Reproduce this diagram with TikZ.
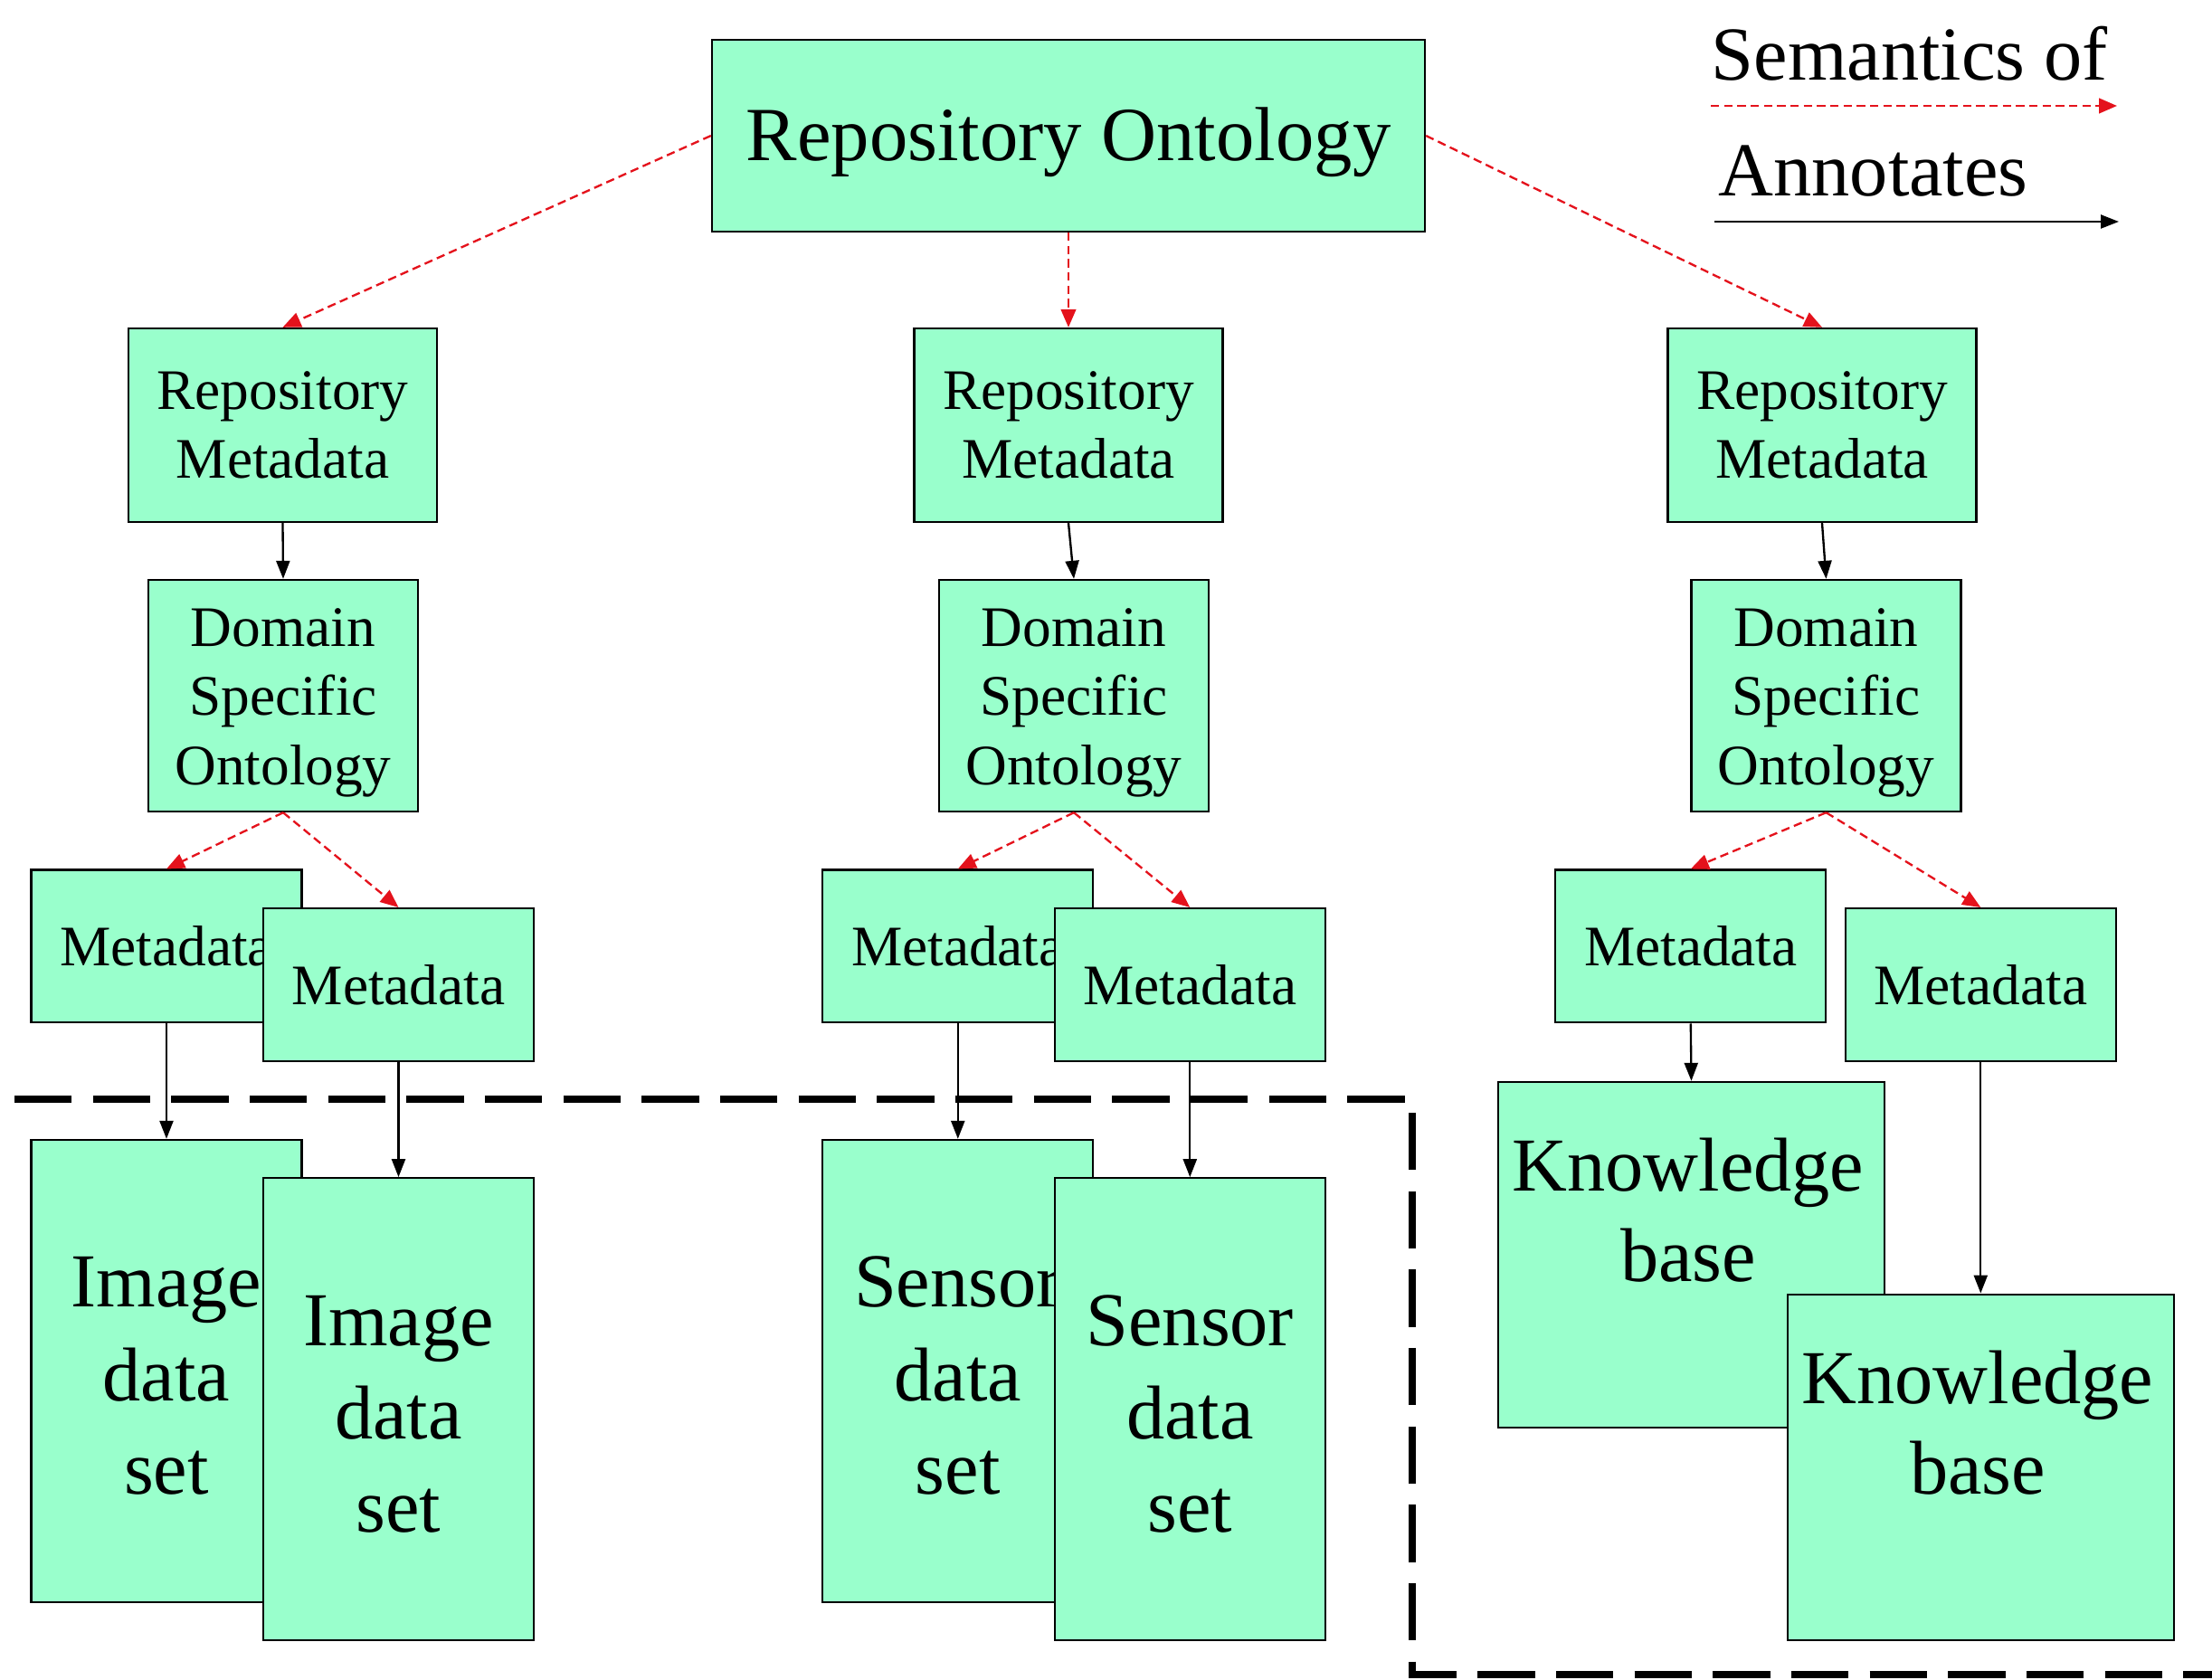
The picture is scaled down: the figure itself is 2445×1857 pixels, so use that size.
\documentclass[tikz,border=0pt]{standalone}
\usepackage{fontspec}
\setmainfont{Liberation Serif}
\usetikzlibrary{arrows.meta}
\definecolor{boxfill}{RGB}{153,255,204}
\definecolor{semred}{RGB}{228,18,28}
\begin{document}
\begin{tikzpicture}[x=0.3pt,y=-0.3pt,
  box/.style={draw=black, line width=0.7pt, fill=boxfill, align=center, inner sep=0pt},
  topbox/.style={box, minimum width=236.4pt, minimum height=63.6pt, text height=21.9pt, font=\fontsize{25.4}{30}\selectfont},
  rmbox/.style={box, minimum width=102.3pt, minimum height=64.2pt, font=\fontsize{19}{23}\selectfont},
  dsobox/.style={box, minimum width=89.4pt, minimum height=76.8pt, text height=63.2pt, font=\fontsize{19}{23}\selectfont},
  mdbox/.style={box, minimum width=89.7pt, minimum height=50.6pt, font=\fontsize{19}{23}\selectfont},
  databox/.style={box, minimum width=89.7pt, minimum height=153.3pt, text height=81.8pt, font=\fontsize{25.3}{31}\selectfont},
  kbbox/.style={box, minimum width=128.1pt, minimum height=114.6pt},
  kbtext/.style={align=center, inner sep=0pt, font=\fontsize{25.3}{30}\selectfont},
  legtext/.style={anchor=base west, inner sep=0pt, font=\fontsize{25.3}{30}\selectfont},
  semarrow/.style={draw=semred, line width=0.7pt, dash pattern=on 2.8pt off 1.6pt, -{Triangle[length=6pt,width=5pt]}},
  annarrow/.style={draw=black, line width=0.7pt, -{Triangle[length=6pt,width=4.5pt]}},
  region/.style={draw=black, line width=2.4pt, dash pattern=on 19pt off 7pt}
]
\useasboundingbox (0,0) rectangle (2445,1857);

% thick dashed region boundary
\coordinate (d1) at (16,1215);
\coordinate (d2) at (1561,1215);
\coordinate (d3) at (1561,1851);
\coordinate (d4) at (2450,1851);
\draw[region] (d1) -- (d2) -- (d3) -- (d4);

% top
\node[topbox] (top) at (1181,150) {Repository Ontology};

% repository metadata
\node[rmbox] (rm1) at (312.5,470) {Repository\\Metadata};
\node[rmbox] (rm2) at (1181,470) {Repository\\Metadata};
\node[rmbox] (rm3) at (2014,470) {Repository\\Metadata};

% domain specific ontology
\node[dsobox] (dso1) at (313,769) {Domain\\Specific\\Ontology};
\node[dsobox] (dso2) at (1187,769) {Domain\\Specific\\Ontology};
\node[dsobox] (dso3) at (2018.5,769) {Domain\\Specific\\Ontology};

% metadata
\node[mdbox] (md1a) at (184,1046) {Metadata};
\node[mdbox] (md1b) at (440.5,1088.5) {Metadata};
\node[mdbox] (md2a) at (1058.8,1046) {Metadata};
\node[mdbox] (md2b) at (1315.3,1088.5) {Metadata};
\node[mdbox] (md3a) at (1868.8,1046) {Metadata};
\node[mdbox] (md3b) at (2189.3,1088.5) {Metadata};

% data sets
\node[databox] (img1) at (184,1515.5) {Image\\data\\set};
\node[databox] (img2) at (440.5,1557.8) {Image\\data\\set};
\node[databox] (sen1) at (1058.8,1515.5) {Sensor\\data\\set};
\node[databox] (sen2) at (1315.3,1557.8) {Sensor\\data\\set};

% knowledge bases
\node[kbbox] (kb1) at (1869.5,1387) {};
\node[kbtext] (kb1t) at (1866,1338) {Knowledge\\base};
\node[kbbox] (kb2) at (2189.3,1621.7) {};
\node[kbtext] (kb2t) at (2186,1572.5) {Knowledge\\base};

% semantics-of arrows
\draw[semarrow] (top.west) -- (rm1.north);
\draw[semarrow] (top.south) -- (rm2.north);
\draw[semarrow] (top.east) -- (rm3.north);
\draw[semarrow] (dso1.south) -- (md1a.north);
\draw[semarrow] (dso1.south) -- (md1b.north);
\draw[semarrow] (dso2.south) -- (md2a.north);
\draw[semarrow] (dso2.south) -- (md2b.north);
\draw[semarrow] (dso3.south) -- (md3a.north);
\draw[semarrow] (dso3.south) -- (md3b.north);

% annotates arrows
\draw[annarrow] (rm1.south) -- (dso1.north);
\draw[annarrow] (rm2.south) -- (dso2.north);
\draw[annarrow] (rm3.south) -- (dso3.north);
\draw[annarrow] (md1a.south) -- (img1.north);
\draw[annarrow] (md1b.south) -- (img2.north);
\draw[annarrow] (md2a.south) -- (sen1.north);
\draw[annarrow] (md2b.south) -- (sen2.north);
\draw[annarrow] (md3a.south) -- (kb1.north);
\draw[annarrow] (md3b.south) -- (kb2.north);

% legend
\node[legtext] (legsem) at (1891,89) {Semantics of};
\node[legtext] (legann) at (1899,217) {Annotates};
\coordinate (ls1) at (1891,117);
\coordinate (le1) at (2340,117);
\draw[semarrow] (ls1) -- (le1);
\coordinate (ls2) at (1895,245);
\coordinate (le2) at (2342,245);
\draw[annarrow] (ls2) -- (le2);
\end{tikzpicture}
\end{document}
